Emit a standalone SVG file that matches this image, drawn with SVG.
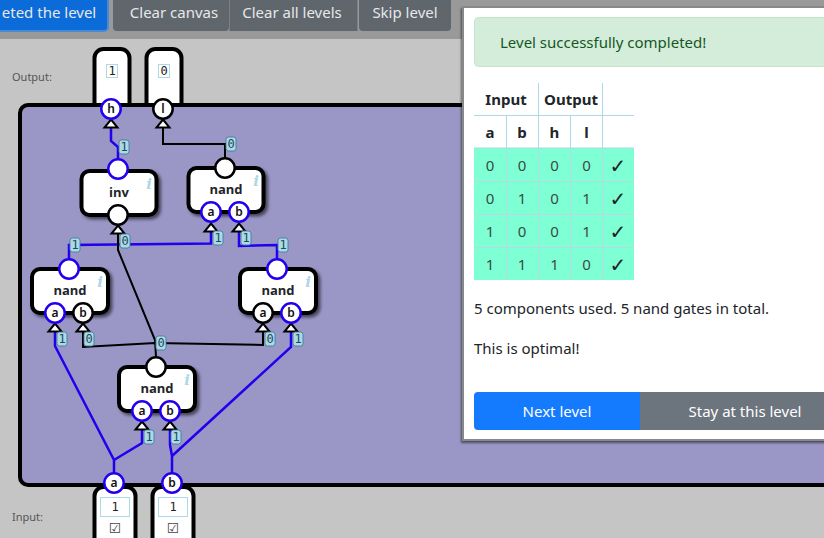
<svg xmlns="http://www.w3.org/2000/svg" width="824" height="538" viewBox="0 0 824 538">
<style>
text{font-family:"Noto Sans","Open Sans","Liberation Sans",sans-serif;fill:#212529}
.btn{font-size:15px;fill:#e6e8ea;text-anchor:middle}
.mbtn{font-size:15px;fill:#fff;text-anchor:middle}
.box{fill:#fff;stroke:#000;stroke-width:4}
.gate{filter:url(#sh)}
.gt{font-size:13px;font-weight:700;text-anchor:middle;font-family:"Open Sans","Noto Sans",sans-serif}
.i{font-size:15px;font-weight:700;font-style:italic;fill:#add8e6;text-anchor:middle;font-family:"DejaVu Serif",serif}
.p1{fill:#fff;stroke:#2200ee;stroke-width:2.5}
.p0{fill:#fff;stroke:#000;stroke-width:2.5}
.pt{font-size:12px;font-weight:600;text-anchor:middle;fill:#111}
.w1{fill:none;stroke:#2200ee;stroke-width:2.5}
.w0{fill:none;stroke:#000;stroke-width:2}
.lb{fill:#add8e6;stroke:#3d7f9c;stroke-width:.9}
.lt{font-family:"DejaVu Sans Mono","Liberation Mono",monospace;font-size:12px;text-anchor:middle;fill:#1f4a5a}
.ar{fill:#fff;stroke:#000;stroke-width:2}
.vb{fill:#fff;stroke:#add8e6;stroke-width:1}
.vt{font-family:"DejaVu Sans Mono","Liberation Mono",monospace;font-size:12px;text-anchor:middle;fill:#222}
.sm{font-size:11px;fill:#555}
.th{font-size:15px;font-weight:700;text-anchor:middle}
.td{font-size:15px;text-anchor:middle;fill:#3a4a48}
.tl{stroke:#add8e6;stroke-width:1}
.tg{stroke:#b5dbe0;stroke-width:1}
.ck{font-size:20px;text-anchor:middle;font-family:"DejaVu Sans",sans-serif}
.cb{font-size:14px;text-anchor:middle;font-family:"DejaVu Sans",sans-serif;fill:#444}
</style>
<defs>
<filter id="sh" x="-20%" y="-20%" width="150%" height="150%"><feDropShadow dx="2.5" dy="2.5" stdDeviation="1.5" flood-color="#000" flood-opacity=".55"/></filter>
<filter id="ms" x="-5%" y="-5%" width="110%" height="110%"><feDropShadow dx="-1" dy="2" stdDeviation="1.2" flood-color="#000" flood-opacity=".5"/></filter>
<path id="arrow" d="M0-4.500L6.500 3.500H-6.500Z"/>
</defs>
<rect id="page" width="824" height="538" fill="#c5c5c5"/>
<rect id="toolbar" width="824" height="39" fill="#999"/>
<g id="toolbar-buttons">
<rect x="-10" y="-6" width="118" height="37" rx="4" fill="#0b6bd8" stroke="#4a8ad0" stroke-width="2"/>
<text class="btn" x="49" y="18" fill="#fff">eted the level</text>
<rect x="113" y="-6" width="116" height="37" rx="4" fill="#5f666c"/>
<rect x="229.500" y="-6" width="128" height="37" fill="#5f666c"/>
<rect x="359" y="-6" width="92" height="37" rx="4" fill="#5f666c"/>
<text class="btn" x="174" y="18">Clear canvas</text>
<text class="btn" x="292" y="18">Clear all levels</text>
<text class="btn" x="405" y="18">Skip level</text>
</g>
<text class="sm" x="12" y="81">Output:</text>
<text class="sm" x="12" y="521">Input:</text>
<g id="output-h"><rect class="box" x="94.500" y="49" width="35" height="70" rx="9"/></g>
<g id="output-l"><rect class="box" x="146.500" y="49" width="35" height="70" rx="9"/></g>
<rect id="canvas" x="20" y="105" width="840" height="380" rx="8" fill="#9a96c6" stroke="#000" stroke-width="4"/>
<g id="input-a-box"><rect class="box" x="94.500" y="487" width="41" height="70" rx="9"/></g>
<g id="input-b-box"><rect class="box" x="152.500" y="487" width="41" height="70" rx="9"/></g>
<g id="connectors">
<path class="w1" d="M111 127V141L118 147V159"/>
<path class="w0" d="M163 127V144H225V158"/>
<path class="w1" d="M211 231V243.500L69 245V259"/>
<path class="w1" d="M239 231V246L277 245V259"/>
<path class="w0" d="M118 233V250L155 340L156 357"/>
<path class="w0" d="M83 327V347L155 343L263 345V331"/>
<path class="w1" d="M114 473V460L55 346V331"/>
<path class="w1" d="M114 460L142 443V429"/>
<path class="w1" d="M172 473V456L170 445V429"/>
<path class="w1" d="M172 456L291 347V331"/>
</g>
<g id="arrowheads" class="ar">
<use href="#arrow" x="111" y="124"/><use href="#arrow" x="163" y="124"/>
<use href="#arrow" x="118" y="230"/><use href="#arrow" x="211" y="228"/><use href="#arrow" x="239" y="228"/>
<use href="#arrow" x="55" y="328"/><use href="#arrow" x="83" y="328"/><use href="#arrow" x="263" y="328"/><use href="#arrow" x="291" y="328"/>
<use href="#arrow" x="142" y="426"/><use href="#arrow" x="170" y="426"/>
</g>
<g id="output-values">
<rect class="vb" x="106.500" y="64.500" width="11" height="13"/><text class="vt" x="112" y="75">1</text>
<rect class="vb" x="158.500" y="64.500" width="11" height="13"/><text class="vt" x="164" y="75">0</text>
</g>
<g id="gate-inv"><rect class="box gate" x="81.500" y="171" width="75" height="44" rx="8"/><text class="gt" x="119" y="197">inv</text><text class="i" x="149" y="189">i</text><circle class="p1" cx="118" cy="169" r="9.700"/><circle class="p0" cx="118" cy="215" r="9.700"/></g>
<g id="gate-nand-top"><rect class="box gate" x="188.500" y="168" width="75" height="44" rx="8"/><text class="gt" x="226" y="194">nand</text><text class="i" x="256" y="186">i</text><circle class="p0" cx="225" cy="168" r="9.700"/><circle class="p1" cx="211" cy="212" r="9.700"/><text class="pt" x="211" y="216">a</text><circle class="p1" cx="239" cy="212" r="9.700"/><text class="pt" x="239" y="216">b</text></g>
<g id="gate-nand-left"><rect class="box gate" x="32" y="269" width="76" height="44" rx="8"/><text class="gt" x="70" y="295">nand</text><text class="i" x="100" y="287">i</text><circle class="p1" cx="69" cy="269" r="9.700"/><circle class="p1" cx="55" cy="313" r="9.700"/><text class="pt" x="55" y="317">a</text><circle class="p0" cx="83" cy="313" r="9.700"/><text class="pt" x="83" y="317">b</text></g>
<g id="gate-nand-right"><rect class="box gate" x="240" y="269" width="76" height="44" rx="8"/><text class="gt" x="278" y="295">nand</text><text class="i" x="308" y="287">i</text><circle class="p1" cx="277" cy="269" r="9.700"/><circle class="p0" cx="263" cy="313" r="9.700"/><text class="pt" x="263" y="317">a</text><circle class="p1" cx="291" cy="313" r="9.700"/><text class="pt" x="291" y="317">b</text></g>
<g id="gate-nand-bottom"><rect class="box gate" x="119" y="367" width="76" height="44" rx="8"/><text class="gt" x="157" y="393">nand</text><text class="i" x="187" y="385">i</text><circle class="p0" cx="156" cy="367" r="9.700"/><circle class="p1" cx="142" cy="411" r="9.700"/><text class="pt" x="142" y="415">a</text><circle class="p1" cx="170" cy="411" r="9.700"/><text class="pt" x="170" y="415">b</text></g>
<g id="pin-h"><circle class="p1" cx="111" cy="109" r="9.700"/><text class="pt" x="111" y="113">h</text></g>
<g id="pin-l"><circle class="p0" cx="163" cy="109" r="9.700"/><text class="pt" x="163" y="113">l</text></g>
<g id="input-a"><circle class="p1" cx="114" cy="483" r="9.700"/><text class="pt" x="114" y="487">a</text><rect class="vb" x="100.500" y="497.500" width="29" height="19"/><text class="vt" x="115" y="511">1</text><text class="cb" x="115" y="533">☑</text></g>
<g id="input-b"><circle class="p1" cx="172" cy="483" r="9.700"/><text class="pt" x="172" y="487">b</text><rect class="vb" x="158.500" y="497.500" width="29" height="19"/><text class="vt" x="173" y="511">1</text><text class="cb" x="173" y="533">☑</text></g>
<g id="wire-labels">
<g transform="translate(124,147)"><rect class="lb" x="-5" y="-7" width="10" height="14" rx="2.500"/><text class="lt" y="4">1</text></g>
<g transform="translate(231,144)"><rect class="lb" x="-5" y="-7" width="10" height="14" rx="2.500"/><text class="lt" y="4">0</text></g>
<g transform="translate(75,245)"><rect class="lb" x="-5" y="-7" width="10" height="14" rx="2.500"/><text class="lt" y="4">1</text></g>
<g transform="translate(125,241)"><rect class="lb" x="-5" y="-7" width="10" height="14" rx="2.500"/><text class="lt" y="4">0</text></g>
<g transform="translate(218,238)"><rect class="lb" x="-5" y="-7" width="10" height="14" rx="2.500"/><text class="lt" y="4">1</text></g>
<g transform="translate(246,238)"><rect class="lb" x="-5" y="-7" width="10" height="14" rx="2.500"/><text class="lt" y="4">1</text></g>
<g transform="translate(283,245)"><rect class="lb" x="-5" y="-7" width="10" height="14" rx="2.500"/><text class="lt" y="4">1</text></g>
<g transform="translate(62,339)"><rect class="lb" x="-5" y="-7" width="10" height="14" rx="2.500"/><text class="lt" y="4">1</text></g>
<g transform="translate(89,339)"><rect class="lb" x="-5" y="-7" width="10" height="14" rx="2.500"/><text class="lt" y="4">0</text></g>
<g transform="translate(161,343)"><rect class="lb" x="-5" y="-7" width="10" height="14" rx="2.500"/><text class="lt" y="4">0</text></g>
<g transform="translate(270,339)"><rect class="lb" x="-5" y="-7" width="10" height="14" rx="2.500"/><text class="lt" y="4">0</text></g>
<g transform="translate(298,339)"><rect class="lb" x="-5" y="-7" width="10" height="14" rx="2.500"/><text class="lt" y="4">1</text></g>
<g transform="translate(149,437)"><rect class="lb" x="-5" y="-7" width="10" height="14" rx="2.500"/><text class="lt" y="4">1</text></g>
<g transform="translate(176,437)"><rect class="lb" x="-5" y="-7" width="10" height="14" rx="2.500"/><text class="lt" y="4">1</text></g>
</g>
<g id="modal">
<rect x="463" y="7" width="380" height="433" fill="#fff" stroke="#888" stroke-width="2" filter="url(#ms)"/>
<rect x="474.500" y="17.500" width="380" height="49" rx="4" fill="#d4edda" stroke="#c3e6cb"/>
<text x="500" y="48" font-size="15" style="fill:#155724">Level successfully completed!</text>
<rect x="474" y="148" width="160" height="132" fill="#7fffd4"/>
<g class="tl"><path d="M474 115.500H634M474 148H634M506.500 115V148M538.500 83V148M570.500 115V148M602.500 83V148"/></g>
<g class="tg"><path d="M474 181.500H634M474 214.500H634M474 247.500H634M506.500 148V280M538.500 148V280M570.500 148V280M602.500 148V280"/></g>
<text class="th" x="506" y="105">Input</text><text class="th" x="571" y="105">Output</text>
<text class="th" x="490" y="138">a</text><text class="th" x="522" y="138">b</text><text class="th" x="554.500" y="138">h</text><text class="th" x="586.500" y="138">l</text>
<text class="td" x="490" y="171">0</text><text class="td" x="522" y="171">0</text><text class="td" x="554.500" y="171">0</text><text class="td" x="586.500" y="171">0</text><text class="ck" x="618" y="173">✓</text>
<text class="td" x="490" y="204">0</text><text class="td" x="522" y="204">1</text><text class="td" x="554.500" y="204">0</text><text class="td" x="586.500" y="204">1</text><text class="ck" x="618" y="206">✓</text>
<text class="td" x="490" y="237">1</text><text class="td" x="522" y="237">0</text><text class="td" x="554.500" y="237">0</text><text class="td" x="586.500" y="237">1</text><text class="ck" x="618" y="239">✓</text>
<text class="td" x="490" y="270">1</text><text class="td" x="522" y="270">1</text><text class="td" x="554.500" y="270">1</text><text class="td" x="586.500" y="270">0</text><text class="ck" x="618" y="272">✓</text>
<text x="474" y="314" font-size="15">5 components used. 5 nand gates in total.</text>
<text x="474" y="354" font-size="15">This is optimal!</text>
<path d="M640 392H478a4 4 0 0 0-4 4V426a4 4 0 0 0 4 4H640Z" fill="#147bff"/>
<rect x="640" y="392" width="190" height="38" fill="#6c757d"/>
<text class="mbtn" x="557" y="417">Next level</text>
<text class="mbtn" x="745" y="417">Stay at this level</text>
</g>
</svg>
